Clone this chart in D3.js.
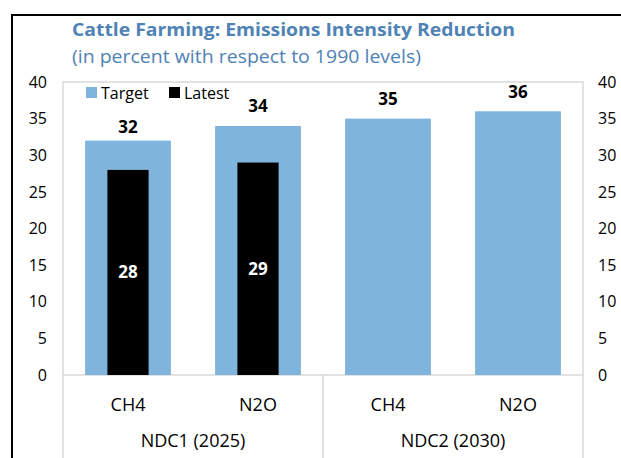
<!DOCTYPE html>
<html>
<head>
<meta charset="utf-8">
<script src="https://cdn.jsdelivr.net/npm/d3@7"></script>
<style>
  html, body { margin: 0; padding: 0; background: #fff; }
  svg { display: block; font-family: "Open Sans", "Noto Sans", sans-serif; }
</style>
</head>
<body>
<svg id="chart" width="621" height="458"></svg>
<script>
// Emissions intensity reduction for cattle farming, by NDC period and gas
const groups = ["NDC1 (2025)", "NDC2 (2030)"];
const gases = ["CH4", "N2O", "CH4", "N2O"];
const targetValues = [32, 34, 35, 36];
const latestValues = [28, 29, null, null];
const yTicks = [0, 5, 10, 15, 20, 25, 30, 35, 40];
const seriesNames = ["Target", "Latest"];

const blue = "#7fb4dd";
const titleBlue = "#4f82b5";
const grid = "#d9d9d9";

const svg = d3.select("#chart");

// outer frame
svg.append("rect")
  .attr("x", 12).attr("y", 15)
  .attr("width", 640).attr("height", 480)
  .attr("fill", "none").attr("stroke", "#000").attr("stroke-width", 2);

// titles
svg.append("text")
  .attr("x", 72).attr("y", 36)
  .attr("fill", titleBlue).attr("font-weight", "bold").attr("font-size", 18)
  .attr("textLength", 443).attr("lengthAdjust", "spacingAndGlyphs")
  .text("Cattle Farming: Emissions Intensity Reduction");
svg.append("text")
  .attr("x", 72).attr("y", 63)
  .attr("fill", titleBlue).attr("font-size", 17.5)
  .attr("textLength", 349).attr("lengthAdjust", "spacingAndGlyphs")
  .text("(in percent with respect to 1990 levels)");

const plot = { left: 63, right: 583, top: 82, bottom: 375 };

const x = d3.scaleBand()
  .domain(d3.range(gases.length))
  .range([plot.left, plot.right])
  .paddingInner(0.34).paddingOuter(0.17);

const y = d3.scaleLinear().domain([0, 40]).range([plot.bottom, plot.top]);

// plot area border
svg.append("rect")
  .attr("x", plot.left).attr("y", plot.top)
  .attr("width", plot.right - plot.left).attr("height", plot.bottom - plot.top)
  .attr("fill", "none").attr("stroke", grid).attr("stroke-width", 1.5);

// category axis area lines
const step = (plot.right - plot.left) / gases.length;
[plot.left, plot.left + step * 2, plot.right].forEach(xx => {
  svg.append("line")
    .attr("x1", xx).attr("x2", xx)
    .attr("y1", plot.bottom).attr("y2", 458)
    .attr("stroke", grid).attr("stroke-width", 1.5);
});

// value axes, left and right
const yLeft = d3.axisLeft(y).tickValues(yTicks).tickSize(0).tickPadding(0);
const yRight = d3.axisRight(y).tickValues(yTicks).tickSize(0).tickPadding(0);
const gl = svg.append("g").attr("transform", "translate(47,0)").call(yLeft);
const gr = svg.append("g").attr("transform", "translate(598,0)").call(yRight);
[gl, gr].forEach(g => {
  g.select(".domain").remove();
  g.selectAll("text").attr("font-size", 16).attr("fill", "#000")
    .attr("font-family", "'Open Sans', sans-serif");
});

// target bars
svg.selectAll("rect.target")
  .data(targetValues)
  .join("rect")
  .attr("class", "target")
  .attr("x", (d, i) => x(i))
  .attr("width", x.bandwidth())
  .attr("y", d => y(d))
  .attr("height", d => y(0) - y(d))
  .attr("fill", blue);

// latest bars, narrower and centred on the target bars
const innerW = x.bandwidth() * 0.48;
const latest = latestValues.map((v, i) => ({ v, i })).filter(d => d.v != null);
svg.selectAll("rect.latest")
  .data(latest)
  .join("rect")
  .attr("class", "latest")
  .attr("x", d => x(d.i) + (x.bandwidth() - innerW) / 2)
  .attr("width", innerW)
  .attr("y", d => y(d.v))
  .attr("height", d => y(0) - y(d.v))
  .attr("fill", "#000");

// value labels (the first one sits closer to its bar, clear of the legend)
const labelGap = i => (i === 0 ? 8 : 13.5);
svg.selectAll("text.tlabel")
  .data(targetValues)
  .join("text")
  .attr("class", "tlabel")
  .attr("x", (d, i) => x(i) + x.bandwidth() / 2)
  .attr("y", (d, i) => y(d) - labelGap(i))
  .attr("text-anchor", "middle")
  .attr("font-weight", "bold").attr("font-size", 17).attr("fill", "#000")
  .text(d => d);
svg.selectAll("text.llabel")
  .data(latest)
  .join("text")
  .attr("class", "llabel")
  .attr("x", d => x(d.i) + x.bandwidth() / 2)
  .attr("y", d => (y(d.v) + y(0)) / 2)
  .attr("dy", "0.35em")
  .attr("text-anchor", "middle")
  .attr("font-weight", "bold").attr("font-size", 17).attr("fill", "#fff")
  .text(d => d.v);

// category labels
svg.selectAll("text.gas")
  .data(gases)
  .join("text")
  .attr("class", "gas")
  .attr("x", (d, i) => x(i) + x.bandwidth() / 2)
  .attr("y", 411)
  .attr("text-anchor", "middle")
  .attr("font-size", 18).attr("fill", "#000")
  .text(d => d);
svg.selectAll("text.group")
  .data(groups)
  .join("text")
  .attr("class", "group")
  .attr("x", (d, gi) => plot.left + step * (gi * 2 + 1))
  .attr("y", 447)
  .attr("text-anchor", "middle")
  .attr("font-size", 18).attr("fill", "#000")
  .text(d => d);

// legend
const legendColors = [blue, "#000"];
const legendX = [86, 169];
seriesNames.forEach((name, i) => {
  svg.append("rect")
    .attr("x", legendX[i]).attr("y", 87)
    .attr("width", 11).attr("height", 11)
    .attr("fill", legendColors[i]);
  svg.append("text")
    .attr("x", legendX[i] + 15).attr("y", 98.5)
    .attr("font-size", 16).attr("fill", "#000")
    .text(name);
});
</script>
</body>
</html>
